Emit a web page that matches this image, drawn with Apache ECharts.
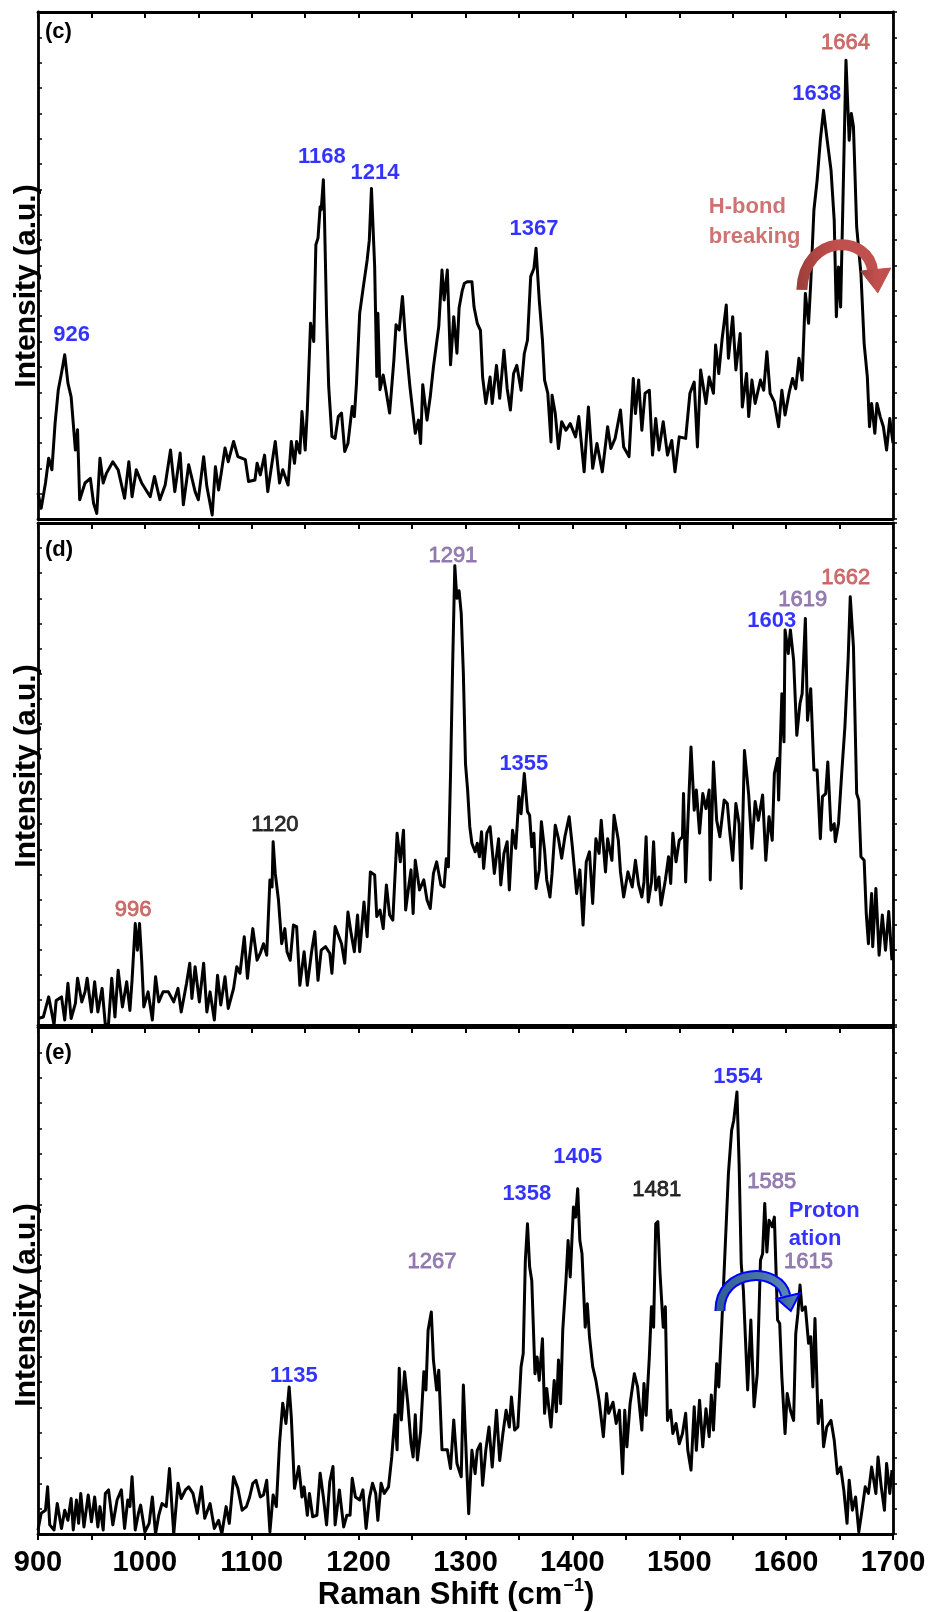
<!DOCTYPE html>
<html><head><meta charset="utf-8">
<script src="https://cdn.jsdelivr.net/npm/echarts/dist/echarts.min.js"></script>
<style>html,body{margin:0;padding:0;background:#fff}#chart{width:937px;height:1612px}</style>
</head><body><div id="chart"></div><script>
// ---------- DATA ----------
const xTicks = [900,1000,1100,1200,1300,1400,1500,1600,1700];

// Panel (c)
const cShift = [900,903,907,910,913,916,919,922,925,928,931,935,937,939,944,949,952,955,958,961,964,970,975,981,985,988,992,997,1005,1009,1014,1019,1024,1028,1033,1036,1041,1047,1050,1055,1058,1063,1066,1069,1075,1078,1083,1087,1094,1097,1103,1105,1108,1112,1115,1118,1122,1126,1129,1134,1137,1140,1142,1145,1147,1150,1152,1155,1158,1160,1162,1164,1165,1167,1168,1170,1172,1175,1178,1181,1184,1187,1190,1194,1196,1198,1201,1204,1208,1210,1212,1215,1217,1218,1220,1223,1226,1229,1233,1235,1238,1241,1244,1248,1253,1256,1258,1260,1264,1267,1270,1275,1278,1280,1283,1286,1289,1292,1294,1297,1299,1302,1306,1308,1311,1314,1316,1319,1323,1325,1329,1332,1336,1339,1342,1345,1348,1352,1355,1358,1361,1364,1366,1369,1372,1374,1377,1380,1381,1384,1387,1390,1394,1398,1403,1406,1411,1415,1419,1423,1428,1433,1436,1440,1445,1448,1453,1457,1459,1462,1465,1468,1472,1475,1478,1481,1485,1489,1493,1496,1500,1506,1510,1514,1517,1520,1525,1528,1532,1534,1537,1540,1544,1546,1550,1553,1557,1559,1563,1565,1568,1571,1576,1579,1582,1585,1589,1593,1596,1599,1603,1606,1609,1612,1615,1618,1621,1623,1626,1629,1632,1635,1638,1642,1645,1647,1649,1651,1654,1656,1659,1661,1663,1666,1670,1673,1676,1678,1680,1683,1685,1688,1691,1694,1697,1700];
const cInt = [5.1,2.1,7.1,12,9.7,18.9,25.5,28.8,32.4,26.8,24.1,13.6,17.6,3.8,7.1,8.0,3.1,1.1,12,7.1,9.0,11.3,9.7,4.1,11.3,4.4,9.7,7.1,4.4,8.4,3.8,6.7,13.6,5.4,13,2.8,10.7,5.4,3.8,12.3,6.4,0.8,10.3,5.7,14,11.3,15.3,12.3,11.7,7.4,7.7,11,8.7,12.6,5.4,9.7,15.3,7.1,9.7,6.7,15.3,11,15.3,13,21.2,13.6,21.5,38.6,35,54.1,55.4,61.6,61,66.9,60,40,26.1,16.3,15.9,20.2,20.9,13.3,14.9,22.2,20.2,26.8,40.6,45.2,51.1,55,65.2,49.8,28.1,40.6,25.5,28.4,24.8,20.9,31.4,38.3,37.3,43.9,35,26.1,16.9,19.5,14.9,26.5,19.5,24.1,30,38,49.1,43.2,49.1,30.4,39.9,32.7,41.6,45.1,46.5,46.8,46.8,41.8,38.6,37.2,28,22.8,28,22.8,30.3,23.8,33.3,25.7,21.5,28.7,30.3,25.4,32.6,35.3,47.8,49.4,53.4,43.2,35.3,27.4,24.8,15.2,24.4,20.8,13.9,19.2,17.5,18.8,16.2,20.2,9.3,22.1,10,14.9,9.3,18.2,13.9,15.9,21.5,14.2,12.3,27.7,20.8,27.4,17.5,24.8,25.4,12.6,19.8,13.6,19.2,12.6,15.5,9.3,16.2,15.9,24.8,27,14.2,29.4,22.8,28,24.8,34.3,28.7,35.3,42.2,31.7,39.9,29.4,36.6,22.1,28.7,20.2,27.4,22.8,27.4,25.4,33,24.8,23.1,18.2,25.4,20.5,25.1,27.7,25.7,31.7,27.4,44.5,38.6,46.4,60.9,66.8,74.7,80.6,75.4,68.8,58.9,39.9,49.7,41.8,70.8,90.5,74.7,80,77.4,57.6,48.4,34.6,28,18.2,22.8,16.9,22.8,20.2,18.2,13.6,19.8,15];

// Panel (d)
const dShift = [900,905,910,913,915,917,922,925,928,931,935,937,941,944,946,950,953,956,960,963,966,969,972,975,979,983,986,988,991,993,995,997,999,1003,1007,1010,1013,1017,1022,1027,1031,1034,1039,1042,1044,1047,1051,1055,1058,1061,1065,1068,1071,1075,1078,1083,1086,1089,1093,1096,1098,1101,1105,1108,1111,1114,1117,1119,1120,1122,1125,1128,1131,1133,1136,1139,1142,1145,1149,1152,1156,1159,1162,1165,1169,1173,1175,1178,1181,1184,1187,1190,1193,1196,1199,1201,1205,1208,1211,1215,1217,1220,1223,1226,1229,1232,1236,1239,1242,1244,1246,1249,1251,1253,1257,1261,1264,1267,1270,1273,1277,1280,1282,1284,1286,1288,1290,1291,1292,1294,1296,1298,1300,1302,1304,1306,1309,1311,1313,1315,1317,1320,1323,1327,1331,1333,1336,1339,1341,1344,1347,1350,1352,1355,1358,1360,1362,1364,1366,1369,1371,1374,1376,1379,1381,1384,1387,1390,1393,1397,1400,1404,1407,1410,1413,1416,1419,1422,1425,1427,1431,1433,1437,1439,1443,1445,1448,1452,1456,1459,1462,1465,1467,1469,1471,1474,1476,1478,1481,1483,1487,1490,1492,1494,1497,1500,1503,1504,1506,1508,1511,1514,1516,1519,1522,1525,1528,1529,1532,1535,1538,1542,1545,1547,1550,1553,1556,1558,1561,1565,1568,1571,1574,1578,1581,1584,1587,1589,1592,1593,1596,1598,1599,1602,1604,1607,1610,1613,1615,1618,1620,1623,1626,1629,1632,1634,1637,1639,1642,1645,1646,1649,1652,1655,1658,1660,1663,1666,1668,1670,1673,1675,1677,1680,1681,1684,1687,1690,1693,1696,1699];
const dInt = [1.3,1.6,5.6,2.3,0,4.9,5.6,1,8.3,1.3,4.3,9.3,4.6,6.6,9.3,2.6,8.6,2.6,7.3,0,0.3,9.3,1.6,10.9,3.6,8.6,2.9,8.9,20.2,14.9,20.2,12.9,3.6,6.6,1,9.6,4.6,6.6,6.6,4.6,7.3,2.6,8.3,12.3,5.3,11.6,4.6,12.3,2.6,6.6,1,9.9,4,9.6,3.3,7.3,11.6,10.3,17.6,9.3,13.6,19.2,12.9,14.3,16.2,13.9,28.9,27.5,36.5,30.2,24.9,16.2,19.2,14.6,12.9,19.9,19.6,7.9,14.6,7.9,14.6,18.6,8.9,14.9,15.6,14.3,10.3,19.6,17.9,16.2,12.3,22.5,18.2,14.6,21.9,14.6,24.5,17.6,30.5,29.9,21.6,22.9,19.2,27.9,21.9,20.9,38.2,32.5,38.8,22.9,26.2,30.9,22.2,32.8,26.9,28.9,24.9,23.2,30.2,32.5,27.9,27.5,33.1,31.5,50,72,91.5,88,85,86.5,82,70,52,46.8,39.5,36.2,34.5,36.2,33.5,38.5,31.2,38.2,39.5,30.2,37.1,27.9,34.2,36.5,26.9,38.8,35.2,45.5,42.1,50.1,42.5,41.8,35.5,38.2,27.2,30.9,40.5,34.8,28.9,25.5,30.2,39.8,37.1,33.2,37.5,41.5,35.5,26.2,30.9,19.9,32.5,34.5,24.2,37.1,34.2,40.8,30.5,37.1,32.8,41.8,36.8,30.5,25.5,30.5,27.5,32.8,27.9,25.5,28.5,37.5,24.5,28.5,36.5,26.9,29.5,23.9,28.9,33.5,28.2,38.2,32.5,36.8,37.5,46.1,28.5,40.1,55.4,42.8,46.8,38.2,46.1,43.1,46.8,28.9,52.4,40.8,37.5,44.8,44.1,39.1,32.8,44.1,40.1,27.2,54.7,45.8,35.2,44.5,40.8,45.8,32.8,41.5,36.8,50.1,53.1,44.8,66,56.4,78.7,74,78.7,72.7,57.7,64.1,66,81,60.7,67,50.8,50.8,37.1,45.5,46.1,52.4,38.8,40.1,36.5,40.1,50.1,59.4,72.7,85.3,75.3,46.1,44.8,33.5,32.8,22.2,16.2,26.2,15.6,27.2,13.9,21.9,14.9,22.6,12.9];

// Panel (e)
const eShift = [900,903,907,909,911,915,918,922,925,928,931,933,936,938,940,943,947,950,953,956,958,961,963,966,970,974,978,981,984,986,988,991,994,996,1000,1004,1007,1010,1013,1016,1020,1023,1027,1031,1034,1038,1041,1045,1049,1053,1056,1061,1065,1069,1072,1076,1079,1083,1087,1091,1095,1098,1101,1104,1108,1111,1114,1117,1120,1123,1126,1129,1132,1135,1137,1140,1144,1147,1149,1152,1154,1157,1161,1164,1167,1170,1173,1176,1178,1182,1186,1189,1192,1194,1197,1201,1204,1207,1210,1213,1216,1218,1221,1224,1228,1231,1234,1236,1238,1240,1243,1246,1249,1251,1253,1255,1258,1261,1263,1265,1268,1270,1273,1275,1278,1283,1286,1289,1292,1296,1298,1301,1303,1306,1309,1311,1314,1316,1319,1322,1325,1329,1332,1335,1338,1341,1343,1346,1349,1352,1354,1356,1358,1360,1362,1365,1367,1369,1372,1374,1376,1380,1383,1385,1387,1389,1391,1394,1396,1398,1401,1403,1405,1407,1409,1412,1414,1416,1419,1422,1425,1429,1432,1434,1438,1441,1444,1447,1449,1451,1454,1458,1461,1465,1467,1469,1472,1474,1476,1478,1480,1482,1485,1487,1489,1492,1494,1497,1500,1503,1506,1508,1511,1514,1516,1519,1522,1525,1528,1530,1532,1535,1537,1540,1543,1546,1549,1551,1554,1556,1558,1560,1564,1567,1570,1573,1576,1578,1580,1582,1584,1587,1589,1592,1594,1596,1599,1601,1604,1607,1609,1611,1613,1615,1618,1621,1623,1625,1627,1630,1633,1635,1638,1642,1645,1648,1651,1654,1657,1659,1662,1665,1668,1671,1674,1677,1680,1684,1686,1689,1692,1694,1697,1699];
const eInt = [0.8,4.1,4.7,9.3,1.8,0.8,6,1.1,4.7,2.7,7,0.8,6.7,2.1,8,1.4,7.7,2.4,7.3,1.4,5.4,0.8,8,8.7,1.8,6.7,8.7,1.1,6.7,5.4,11.3,0.8,4.1,5.7,0.4,2.1,7.3,0,3.7,6,5.4,12.9,0,10,7,8.7,9.3,8,4.1,9.3,3.1,6,1.1,2.7,0,5.4,2.1,11.3,9,4.7,5.4,7.3,10,10.6,7.3,7.7,10.6,0.4,7.7,5.4,17.9,25.8,21.8,29,23.1,9,13.3,7.3,9.3,3.7,8,3.4,3.7,12,7.3,1.8,10.3,13.3,1.8,8.7,1.4,3.7,3.7,11,7.3,6.7,8.7,1.1,7,10,8,2.7,10,8,9.3,15.2,23.5,16.6,32.7,22.5,32,25.8,17.9,15.2,23.5,14.6,20.2,32,28.4,40.2,43.8,34.3,28.4,32.3,16.6,16.6,12.9,22.5,13.9,11.3,29.4,13.9,4,16.5,11.9,16.5,17.8,9.6,16.5,21.1,13.2,24.4,14.5,19.8,24.4,21.1,27,20.5,21.1,33,35.6,54,61.2,52.7,50,31.6,34.9,30.3,38.5,23.8,28.7,21.1,30.3,24.1,34.3,25.7,40.2,50,57.9,50.7,64.5,62.5,68.1,57.9,55.3,40.8,45.4,38.9,33,30.3,26.4,19.2,27.7,23.8,26,21.8,24.4,11.9,24.4,17.2,25.7,31.6,29,20.5,29.7,23.4,34.9,44.8,40.8,61.2,61.6,51.4,40.8,44.8,22.4,24.4,19.8,21.8,17.8,19.8,23.8,16.5,12.6,25.1,16.5,26.4,17.2,24.7,19.2,27.4,20.5,33.6,29,42.2,56.6,71.1,79.6,81.6,87.2,73.1,53.3,48.1,28.4,42.2,25.1,31.6,54,55.3,65.2,55.6,61.9,60.6,62.5,42.2,41.5,31,19.8,27.7,24.4,22.4,39.5,43.5,49.1,44.1,44.8,37.6,38.9,29,42.5,21.8,26.4,17.2,21.1,22.4,18.5,11.9,13.2,8.6,2.1,10.6,4.7,7.3,0.4,4.7,9.3,8,13.2,8,15.2,9.3,4.7,13.9,8,12.6];

// Peak annotations (text, anchor shift, anchor intensity)
const cLabText  = ['926','1168','1214','1367','1638','1664','H-bond','breaking'];
const cLabShift = [931.5,1165.7,1215.3,1364,1628.7,1655.5,1527.7,1527.7];
const cLabInt   = [36.3,71.5,68.2,57.2,83.8,93.8,61.5,55.6];
const cLabKind  = ['blue','blue','blue','blue','blue','red','redB','redB'];

const dLabText  = ['996','1120','1291','1355','1603','1619','1662'];
const dLabShift = [988.9,1121.7,1288.2,1354.6,1586.6,1615.6,1655.8];
const dLabInt   = [22.9,39.8,93.5,52,80.5,84.7,89.1];
const dLabKind  = ['red','black','purple','blue','blue','purple','red'];

const eLabText  = ['1135','1267','1358','1405','1481','1554','1585','Proton','ation','1615'];
const eLabShift = [1139.5,1268.6,1357.4,1405.1,1479,1554.8,1586.6,1602.5,1602.5,1621];
const eLabInt   = [31.2,53.6,67.1,74.4,67.9,90.2,69.4,63.7,58.2,53.6];
const eLabKind  = ['blue','purple','blue','blue','black','blue','purple','blueL','blueL','purple'];

// Curved arrows (data coordinates): start, cp1, cp2, end, wingL, tip, wingR
const cArrow = [[1614.7,45.2],[1616.6,56.4],[1678.3,56.4],[1681.1,48.7],[1669.9,48.9],[1685.8,44.6],[1697.9,49.5]];
const eArrow = [[1538,44.0],[1538,52.7],[1594.1,52.7],[1599.7,47.0],[1591.3,46.4],[1604.4,44.0],[1612.8,47.5]];

// ---------- STYLE ----------
const FONT = "'Liberation Sans', Arial, Helvetica, sans-serif";
const KIND = {
  blue:   {color:'#0000ff', fontWeight:'bold', align:'center', border:0},
  blueL:  {color:'#0000ff', fontWeight:'bold', align:'left', border:0},
  red:    {color:'#c0504d', fontWeight:'normal', align:'center', border:0.8},
  redB:   {color:'#c0504d', fontWeight:'bold', align:'left', border:0},
  purple: {color:'#8064a2', fontWeight:'normal', align:'center', border:0.8},
  black:  {color:'#000000', fontWeight:'normal', align:'center', border:0.8}
};

const grids = [
  {left:38, right:44, top:12, height:507},
  {left:38, right:44, top:523, height:502},
  {left:38, right:44, top:1027, height:507}
];

const zip = (a,b) => a.map((x,i)=>[x,b[i]]);
const xAxes = [], yAxes = [], series = [];
const lineW = 2.8;

grids.forEach((g,i)=>{
  const last = i === grids.length-1;
  xAxes.push({
    type:'value', gridIndex:i, position:'bottom', min:xTicks[0], max:xTicks[xTicks.length-1], interval:100,
    axisLine:{show:true, onZero:false, lineStyle:{color:'#000', width:lineW}},
    axisTick:{show:last, inside:false, length:6, lineStyle:{color:'#000', width:2}},
    minorTick:{show:last, splitNumber:2, length:6, lineStyle:{color:'#000', width:2}},
    axisLabel:{show:last, color:'#000', fontSize:29, fontWeight:'bold', fontFamily:FONT, margin:14,
      formatter:(v)=>String(v)},
    splitLine:{show:false}, minorSplitLine:{show:false}
  });
  xAxes.push({
    type:'value', gridIndex:i, position:'top', min:xTicks[0], max:xTicks[xTicks.length-1], interval:100,
    axisLine:{show:true, onZero:false, lineStyle:{color:'#000', width:lineW}},
    axisTick:{show:true, inside:true, length:6, lineStyle:{color:'#000', width:2}},
    minorTick:{show:true, splitNumber:2, length:6, lineStyle:{color:'#000', width:2}},
    axisLabel:{show:false}, splitLine:{show:false}
  });
  yAxes.push({
    type:'value', gridIndex:i, position:'left', min:0, max:100, interval:5,
    axisLine:{show:true, onZero:false, lineStyle:{color:'#000', width:lineW}},
    axisTick:{show:true, inside:true, length:4, lineStyle:{color:'#000', width:1.5}},
    axisLabel:{show:false}, splitLine:{show:false}
  });
  yAxes.push({
    type:'value', gridIndex:i, position:'right', min:0, max:100, interval:5,
    axisLine:{show:true, onZero:false, lineStyle:{color:'#000', width:lineW}},
    axisTick:{show:true, inside:false, length:4, lineStyle:{color:'#000', width:1.5}},
    axisLabel:{show:false}, splitLine:{show:false}
  });
});

const spectra = [zip(cShift,cInt), zip(dShift,dInt), zip(eShift,eInt)];
spectra.forEach((d,i)=>{
  series.push({
    type:'line', xAxisIndex:2*i, yAxisIndex:2*i, data:d, showSymbol:false, symbol:'none',
    lineStyle:{color:'#000', width:3, join:'round'}, z:3, animation:false, silent:true
  });
});

const labSets = [
  [cLabText,cLabShift,cLabInt,cLabKind],
  [dLabText,dLabShift,dLabInt,dLabKind],
  [eLabText,eLabShift,eLabInt,eLabKind]
];
labSets.forEach((s,i)=>{
  const [t,x,y,k] = s;
  series.push({
    type:'scatter', xAxisIndex:2*i, yAxisIndex:2*i, symbolSize:1, itemStyle:{color:'rgba(0,0,0,0)'},
    z:5, animation:false, silent:true,
    data: t.map((txt,j)=>{
      const st = KIND[k[j]];
      return {
        name: txt, value:[x[j], y[j]],
        label:{show:true, position:'inside', formatter:txt, fontSize:22, fontFamily:FONT,
          color:st.color, fontWeight:st.fontWeight, align:st.align, verticalAlign:'middle',
          textBorderColor: st.border ? st.color : 'transparent', textBorderWidth: st.border}
      };
    })
  });
});

const graphic = [
  {id:'pc', type:'text', x:45, y:21, style:{text:'(c)', font:'bold 22px '+FONT, fill:'#000', textVerticalAlign:'top'}},
  {id:'pd', type:'text', x:45, y:539, style:{text:'(d)', font:'bold 22px '+FONT, fill:'#000', textVerticalAlign:'top'}},
  {id:'pe', type:'text', x:45, y:1042, style:{text:'(e)', font:'bold 22px '+FONT, fill:'#000', textVerticalAlign:'top'}},
  {id:'yc', type:'text', x:27, y:286, rotation:Math.PI/2, style:{text:'Intensity (a.u.)', font:'bold 30px '+FONT, fill:'#000', align:'center', verticalAlign:'middle'}},
  {id:'yd', type:'text', x:27, y:766, rotation:Math.PI/2, style:{text:'Intensity (a.u.)', font:'bold 30px '+FONT, fill:'#000', align:'center', verticalAlign:'middle'}},
  {id:'ye', type:'text', x:27, y:1305, rotation:Math.PI/2, style:{text:'Intensity (a.u.)', font:'bold 30px '+FONT, fill:'#000', align:'center', verticalAlign:'middle'}},
  {id:'xt', type:'text', x:456, y:1594, style:{
    text:'{a|Raman Shift (cm}{b|−1}{a|)}', align:'center', verticalAlign:'middle',
    rich:{a:{fontSize:31, fontWeight:'bold', fontFamily:FONT, fill:'#000', lineHeight:34, verticalAlign:'bottom'},
          b:{fontSize:18, fontWeight:'bold', fontFamily:FONT, fill:'#000', lineHeight:34, verticalAlign:'top', padding:[0,0,0,1]}}
  }}
];

const chart = echarts.init(document.getElementById('chart'), null, {renderer:'canvas'});
chart.setOption({
  animation:false, backgroundColor:'#fff',
  grid:grids, xAxis:xAxes, yAxis:yAxes, series:series, graphic:graphic
});

function arrowGraphics(arr, seriesIndex, idp, strokeOuter, fillInner, bandW){
  const p = arr.map(pt => chart.convertToPixel({seriesIndex:seriesIndex}, pt));
  const shape = {x1:p[0][0], y1:p[0][1], cpx1:p[1][0], cpy1:p[1][1], cpx2:p[2][0], cpy2:p[2][1], x2:p[3][0], y2:p[3][1]};
  const els = [];
  if (strokeOuter) {
    els.push({id:idp+'o', type:'bezierCurve', z:10, shape:shape, style:{stroke:strokeOuter, lineWidth:bandW+4, fill:null, lineCap:'butt'}});
  }
  els.push({id:idp+'i', type:'bezierCurve', z:11, shape:shape, style:{stroke:fillInner, lineWidth:bandW, fill:null, lineCap:'butt'}});
  els.push({id:idp+'h', type:'polygon', z:12, shape:{points:[p[4],p[5],p[6]]},
    style:{fill:fillInner, stroke:strokeOuter || fillInner, lineWidth:strokeOuter?2:1, lineJoin:'miter'}});
  return els;
}
const redGrad = new echarts.graphic.LinearGradient(0,0,1,0,[{offset:0,color:'#9e3d3a'},{offset:0.5,color:'#c0504d'},{offset:1,color:'#c0504d'}]);
const blueGrad = new echarts.graphic.LinearGradient(0,0,1,0,[{offset:0,color:'#2f5d8f'},{offset:1,color:'#5b87b5'}]);
chart.setOption({graphic:[
  ...arrowGraphics(cArrow, 0, 'ac', null, redGrad, 11),
  ...arrowGraphics(eArrow, 2, 'ae', '#0000ff', blueGrad, 7)
]});
</script></body></html>
